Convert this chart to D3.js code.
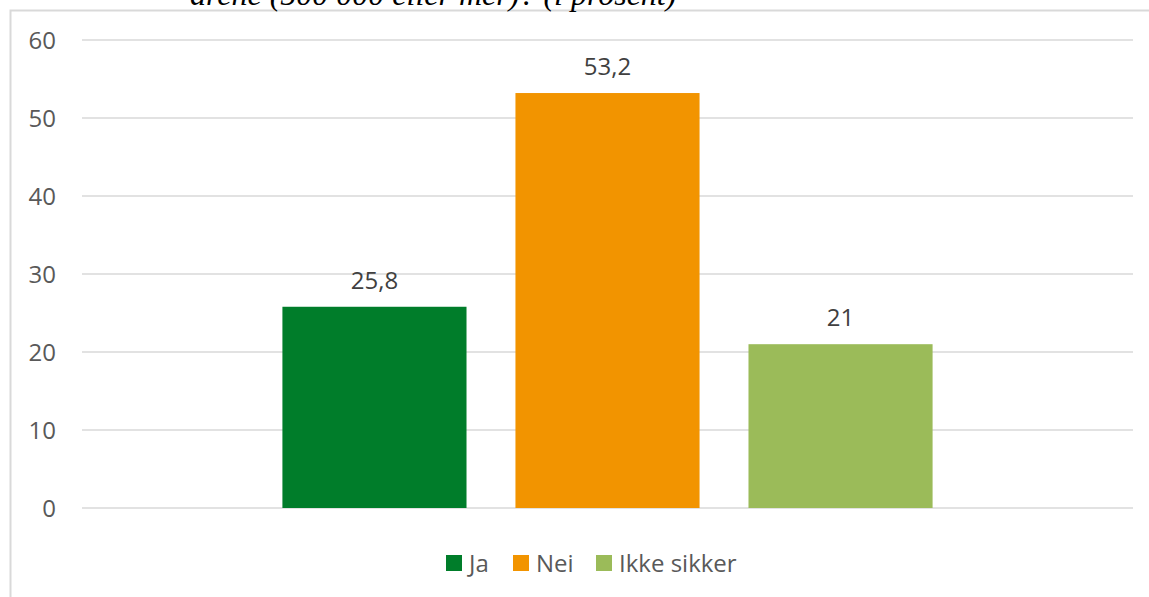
<!DOCTYPE html>
<html>
<head>
<meta charset="utf-8">
<script src="https://cdn.jsdelivr.net/npm/d3@7"></script>
<style>
  html, body { margin: 0; padding: 0; background: #fff; }
  svg { display: block; }
</style>
</head>
<body>
<svg id="chart" width="1149" height="597"></svg>
<script>
const titleText = "årene (500 000 eller mer)? (i prosent)";
const series = ["Ja", "Nei", "Ikke sikker"];
const values = [25.8, 53.2, 21];
const valueLabels = ["25,8", "53,2", "21"];
const colors = ["#007d2a", "#f29400", "#9bbb59"];
const yTicks = [0, 10, 20, 30, 40, 50, 60];

const svg = d3.select("#chart");
const W = 1149, H = 597;
const plot = { left: 82, right: 1133, top: 40, bottom: 508 };

// frame
svg.append("path")
  .attr("d", `M10.5,${H} L10.5,10.5 L${W},10.5`)
  .attr("fill", "none").attr("stroke", "#d9d9d9").attr("stroke-width", 2);

// cut-off title (as in the reference)
svg.append("text")
  .attr("x", 190).attr("y", 5)
  .attr("font-family", "Liberation Serif, Times New Roman, serif")
  .attr("font-style", "italic")
  .attr("font-size", 32)
  .attr("fill", "#000")
  .text(titleText);

const y = d3.scaleLinear().domain([0, 60]).range([plot.bottom, plot.top]);
const x = d3.scaleBand().domain(series).range([plot.left, plot.right])
  .paddingInner(0.21).paddingOuter(0.86);

// gridlines
svg.append("g").selectAll("line").data(yTicks).join("line")
  .attr("x1", plot.left).attr("x2", plot.right)
  .attr("y1", d => y(d)).attr("y2", d => y(d))
  .attr("stroke", "#d9d9d9").attr("stroke-width", 1.5);

// y axis labels
const yAxis = d3.axisLeft(y).tickValues(yTicks).tickSize(0).tickPadding(0);
const gy = svg.append("g").attr("transform", "translate(56,0)").call(yAxis);
gy.select(".domain").remove();
gy.selectAll("text")
  .attr("font-family", "Open Sans, sans-serif")
  .attr("font-size", 24)
  .attr("fill", "#595959")
  .attr("dy", "0.36em");

// bars
svg.append("g").selectAll("rect").data(series).join("rect")
  .attr("x", d => x(d))
  .attr("width", x.bandwidth())
  .attr("y", (d, i) => y(values[i]))
  .attr("height", (d, i) => y(0) - y(values[i]))
  .attr("fill", (d, i) => colors[i]);

// value labels
svg.append("g").selectAll("text").data(series).join("text")
  .attr("x", d => x(d) + x.bandwidth() / 2)
  .attr("y", (d, i) => y(values[i]) - 18)
  .attr("text-anchor", "middle")
  .attr("font-family", "Open Sans, sans-serif")
  .attr("font-size", 24)
  .attr("fill", "#404040")
  .text((d, i) => valueLabels[i]);

// legend
const legendItems = [
  { x: 446, tx: 469 },
  { x: 513, tx: 536 },
  { x: 596, tx: 619 }
];
const lg = svg.append("g");
series.forEach((s, i) => {
  lg.append("rect").attr("x", legendItems[i].x).attr("y", 555)
    .attr("width", 16).attr("height", 16).attr("fill", colors[i]);
  lg.append("text").attr("x", legendItems[i].tx).attr("y", 563)
    .attr("dy", "0.36em")
    .attr("font-family", "Open Sans, sans-serif")
    .attr("font-size", 24)
    .attr("fill", "#595959")
    .text(s);
});
</script>
</body>
</html>
